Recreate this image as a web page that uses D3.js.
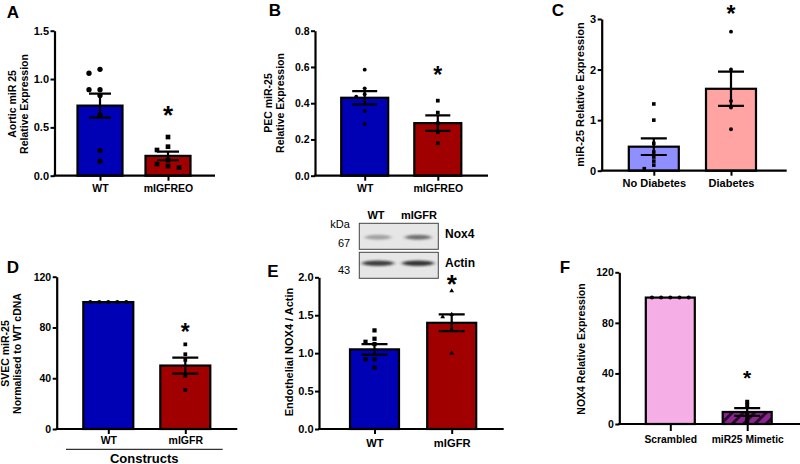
<!DOCTYPE html>
<html><head><meta charset="utf-8">
<script src="https://cdn.jsdelivr.net/npm/d3@7"></script>
<style>body{margin:0;background:#fff} svg{display:block} text{font-family:"Liberation Sans",Arial,sans-serif}</style>
</head><body><svg id="c" width="800" height="464"></svg>
<script>
// ---------- DATA ----------
// Panel A
const aCategories = ["WT", "mIGFREO"];
const aMeans = [0.725, 0.205];
const aSem = [0.125, 0.045];
const aPointsWT = [1.10, 1.06, 0.89, 0.89, 0.83, 0.63, 0.26, 0.15];
const aPointsMut = [0.40, 0.30, 0.266, 0.16, 0.12, 0.10, 0.083];
const aTicks = [0, 0.5, 1.0, 1.5];
const aStar = 0.70;
// Panel B
const bCategories = ["WT", "mIGFREO"];
const bMeans = [0.43, 0.29];
const bSem = [0.037, 0.043];
const bPointsWT = [0.585, 0.482, 0.449, 0.436, 0.357, 0.285];
const bPointsMut = [0.414, 0.348, 0.289, 0.24, 0.179];
const bTicks = [0, 0.2, 0.4, 0.6, 0.8];
const bStar = 0.585;
// Panel C
const cCategories = ["No Diabetes", "Diabetes"];
const cMeans = [0.475, 1.62];
const cSem = [0.165, 0.34];
const cPointsNo = [1.32, 1.0, 0.54, 0.37, 0.27, 0.19, 0.11, 0.04];
const cPointsDiab = [2.75, 2.0, 1.38, 1.25, 0.82];
const cTicks = [0, 1, 2, 3];
const cStar = 3.22;
// Panel D
const dCategories = ["WT", "mIGFR"];
const dMeans = [100, 50];
const dSem = [0, 6.3];
const dPointsWT = [100, 100, 100, 100, 100];
const dPointsMut = [66.7, 58.9, 54.4, 41.8, 30.7];
const dTicks = [0, 40, 80, 120];
const dStar = 81;
// Panel E
const eCategories = ["WT", "mIGFR"];
const eMeans = [1.05, 1.40];
const eSem = [0.07, 0.11];
const ePointsWT = [1.30, 1.19, 1.15, 1.12, 0.92, 0.92, 0.81];
const ePointsMut = [1.82, 1.51, 1.48, 1.31, 1.00];
const eTicks = [0, 0.5, 1.0, 1.5, 2.0];
const eStar = 2.0;
// Panel F
const fCategories = ["Scrambled", "miR25 Mimetic"];
const fMeans = [100, 9.5];
const fSem = [0, 3];
const fPointsScr = [100, 100, 100, 100, 100];
const fPointsMim = [17.6, 15, 8, 5, 2];
const fTicks = [0, 40, 80, 120];
const fStar = 41;
// Blot
const blotLanes = ["WT", "mIGFR"];
const blotProteins = ["Nox4", "Actin"];
const blotKDa = ["67", "43"];
const nox4Intensity = [0.35, 0.6];
const actinIntensity = [0.85, 0.9];

// ---------- DRAW ----------
const svg = d3.select("#c");
const defs = svg.append("defs");
const pat = defs.append("pattern").attr("id", "hatch").attr("patternUnits", "userSpaceOnUse")
  .attr("width", 8).attr("height", 8).attr("patternTransform", "rotate(45)");
pat.append("rect").attr("width", 8).attr("height", 8).attr("fill", "#8e2490");
pat.append("rect").attr("width", 3).attr("height", 8).attr("fill", "#2a0a2e");
defs.append("filter").attr("id", "blur").attr("x", "-30%").attr("y", "-100%").attr("width", "160%").attr("height", "300%")
  .append("feGaussianBlur").attr("stdDeviation", "2 1.2");

function swarm(vals, y, d, v) {
  const placed = [], off = new Array(vals.length);
  const order = vals.map((_, i) => i).sort((a, b) => vals[b] - vals[a]);
  order.forEach(i => {
    const py = y(vals[i]);
    const cands = [0];
    for (let k = 1; k < 6; k++) cands.push(-k * d, k * d);
    for (const c of cands) {
      if (!placed.some(p => Math.abs(p.x - c) < d * 0.9 && Math.abs(p.y - py) < v)) {
        off[i] = c; placed.push({x: c, y: py}); break;
      }
    }
  });
  return off;
}

function panel(cfg) {
  const g = svg.append("g");
  const y = d3.scaleLinear().domain([0, cfg.yMax]).range([cfg.y0, cfg.yTop]);
  const x = d3.scalePoint().domain(cfg.cats).range(cfg.xr);
  cfg.cats.forEach((c, i) => {
    g.append("rect").attr("x", x(c) - cfg.bw / 2).attr("y", y(cfg.means[i]))
      .attr("width", cfg.bw).attr("height", cfg.y0 - y(cfg.means[i]))
      .attr("fill", cfg.fills[i]).attr("stroke", "#000").attr("stroke-width", 2.2);
  });
  cfg.cats.forEach((c, i) => {
    const vals = cfg.points[i];
    const off = swarm(vals, y, cfg.spread, cfg.vsep);
    const sym = d3.symbol().type(cfg.shapes[i]).size(cfg.sizes[i]);
    vals.forEach((v, j) => {
      g.append("path").attr("d", sym).attr("fill", "#000")
        .attr("transform", `translate(${x(c) + off[j]},${y(v)})`);
    });
  });
  cfg.cats.forEach((c, i) => {
    const s = cfg.sem[i]; if (!s) return;
    const cx = x(c), hi = y(cfg.means[i] + s), lo = y(cfg.means[i] - s), w = cfg.cap / 2;
    g.append("path").attr("d", `M${cx},${lo}V${hi}M${cx - w},${hi}H${cx + w}M${cx - w},${lo}H${cx + w}`)
      .attr("stroke", "#000").attr("stroke-width", 2.2).attr("fill", "none");
  });
  const ya = g.append("g").attr("transform", `translate(${cfg.axisX},0)`)
    .call(d3.axisLeft(y).tickValues(cfg.ticks).tickFormat(d3.format(cfg.fmt)).tickSize(4).tickPadding(1.5).tickSizeOuter(0));
  ya.select(".domain").attr("stroke-width", 2.2);
  ya.selectAll(".tick line").attr("stroke-width", 2);
  ya.selectAll("text").attr("font-size", cfg.tfs).attr("font-weight", "bold").attr("fill", "#000")
    .attr("font-family", '"Liberation Sans",Arial,sans-serif');
  g.append("line").attr("x1", cfg.axisX - 1).attr("x2", cfg.xEnd).attr("y1", cfg.y0).attr("y2", cfg.y0)
    .attr("stroke", "#000").attr("stroke-width", 2.2);
  const xa = g.append("g").attr("transform", `translate(0,${cfg.y0})`)
    .call(d3.axisBottom(x).tickSize(cfg.xts).tickPadding(cfg.xtp));
  xa.select(".domain").remove();
  xa.selectAll(".tick line").attr("stroke-width", 2);
  xa.selectAll("text").attr("font-size", cfg.xfs).attr("font-weight", "bold").attr("fill", "#000")
    .attr("font-family", '"Liberation Sans",Arial,sans-serif');
  const sx = x(cfg.cats[1]);
  g.append("text").attr("x", sx).attr("y", y(cfg.star) + cfg.starFs * 0.6).attr("text-anchor", "middle")
    .attr("font-size", cfg.starFs).attr("font-weight", "bold").text("*");
  cfg.ylab.forEach((l, k) => {
    g.append("text").attr("transform", `translate(${cfg.ylx[k]},${cfg.yly}) rotate(-90)`)
      .attr("text-anchor", "middle").attr("dy", "0.35em").attr("font-size", cfg.lfs)
      .attr("font-weight", "bold").text(l);
  });
  g.append("text").attr("x", cfg.letterPos[0]).attr("y", cfg.letterPos[1]).attr("dy", "0.35em")
    .attr("text-anchor", "middle").attr("font-size", 17).attr("font-weight", "bold").text(cfg.letter);
  return {x, y};
}

const BLUE = "#0000b4", RED = "#a00000";

panel({cats: aCategories, means: aMeans, sem: aSem, points: [aPointsWT, aPointsMut], ticks: aTicks, star: aStar,
  yMax: 1.5, y0: 175.7, yTop: 30.7, axisX: 54.5, xEnd: 215, xr: [100, 168], bw: 45, fills: [BLUE, RED],
  shapes: [d3.symbolCircle, d3.symbolSquare], sizes: [22, 22], spread: 11, vsep: 5, cap: 22, fmt: ".1f",
  tfs: 11, xfs: 10.5, xts: 5, xtp: 4, starFs: 26, lfs: 10.5,
  ylab: ["Aortic miR 25", "Relative Expression"], ylx: [12, 24.5], yly: 104, letter: "A", letterPos: [13, 12]});

panel({cats: bCategories, means: bMeans, sem: bSem, points: [bPointsWT, bPointsMut], ticks: bTicks, star: bStar,
  yMax: 0.8, y0: 175.7, yTop: 30.7, axisX: 315, xEnd: 488, xr: [364.7, 437.8], bw: 47, fills: [BLUE, RED],
  shapes: [d3.symbolCircle, d3.symbolSquare], sizes: [12, 14], spread: 8.5, vsep: 4, cap: 25, fmt: ".1f",
  tfs: 10.5, xfs: 10.5, xts: 5, xtp: 4, starFs: 23, lfs: 10.5,
  ylab: ["PEC miR-25", "Relative Expression"], ylx: [268.5, 280], yly: 103, letter: "B", letterPos: [275, 10]});

panel({cats: cCategories, means: cMeans, sem: cSem, points: [cPointsNo, cPointsDiab], ticks: cTicks, star: cStar,
  yMax: 3, y0: 170.7, yTop: 19, axisX: 601.7, xEnd: 786.7, xr: [653.8, 731], bw: 50, fills: ["#8f8fff", "#ffa3a3"],
  shapes: [d3.symbolSquare, d3.symbolCircle], sizes: [13, 12], spread: 9.5, vsep: 4, cap: 26, fmt: "d",
  tfs: 11, xfs: 11, xts: 5, xtp: 4, starFs: 23, lfs: 11,
  ylab: ["miR-25 Relative Expression"], ylx: [580], yly: 94.5, letter: "C", letterPos: [558, 10]});

panel({cats: dCategories, means: dMeans, sem: dSem, points: [dPointsWT, dPointsMut], ticks: dTicks, star: dStar,
  yMax: 120, y0: 429, yTop: 276.7, axisX: 56.7, xEnd: 237.3, xr: [108.3, 185.3], bw: 50, fills: [BLUE, RED],
  shapes: [d3.symbolCircle, d3.symbolSquare], sizes: [13, 14], spread: 9, vsep: 4, cap: 26, fmt: "d",
  tfs: 10.5, xfs: 10.5, xts: 5, xtp: 3, starFs: 23, lfs: 10.5,
  ylab: ["SVEC miR-25", "Normalised to WT cDNA"], ylx: [5.5, 17.5], yly: 353.5, letter: "D", letterPos: [13, 266.7]});

svg.append("line").attr("x1", 66).attr("x2", 222.7).attr("y1", 449.3).attr("y2", 449.3).attr("stroke", "#000").attr("stroke-width", 1);
svg.append("text").attr("x", 144.3).attr("y", 462.5).attr("text-anchor", "middle").attr("font-size", 13)
  .attr("font-weight", "bold").attr("font-family", '"Open Sans",sans-serif').text("Constructs");

panel({cats: eCategories, means: eMeans, sem: eSem, points: [ePointsWT, ePointsMut], ticks: eTicks, star: eStar,
  yMax: 2.0, y0: 429, yTop: 277.3, axisX: 319, xEnd: 503.7, xr: [374.5, 451.7], bw: 49, fills: [BLUE, RED],
  shapes: [d3.symbolSquare, d3.symbolTriangle], sizes: [18, 10], spread: 9, vsep: 4, cap: 26, fmt: ".1f",
  tfs: 11, xfs: 11.2, xts: 5, xtp: 5, starFs: 26, lfs: 11,
  ylab: ["Endothelial NOX4 / Actin"], ylx: [289.5], yly: 352, letter: "E", letterPos: [273, 270.7]});

panel({cats: fCategories, means: fMeans, sem: fSem, points: [fPointsScr, fPointsMim], ticks: fTicks, star: fStar,
  yMax: 120, y0: 424, yTop: 272.3, axisX: 619.3, xEnd: 800, xr: [670.3, 747.2], bw: 49, fills: ["#f5aee6", "url(#hatch)"],
  shapes: [d3.symbolCircle, d3.symbolSquare], sizes: [13, 16], spread: 9.2, vsep: 2, cap: 26, fmt: "d",
  tfs: 10.5, xfs: 10.3, xts: 7, xtp: 5, starFs: 21, lfs: 10.5,
  ylab: ["NOX4 Relative Expression"], ylx: [581], yly: 349, letter: "F", letterPos: [565, 266.7]});

// ---------- Western blot inset ----------
const blot = svg.append("g");
const laneX = d3.scalePoint().domain(blotLanes).range([378, 418]);
const rowY = d3.scalePoint().domain(blotProteins).range([236.3, 265.3]);
blotProteins.forEach((p, r) => {
  const top = rowY(p) - 13;
  blot.append("rect").attr("x", 359.3).attr("y", top).attr("width", 79).attr("height", 26)
    .attr("fill", "#e6e6e6").attr("stroke", "#444").attr("stroke-width", 1);
  const inten = r === 0 ? nox4Intensity : actinIntensity;
  blotLanes.forEach((l, k) => {
    blot.append("ellipse").attr("cx", laneX(l)).attr("cy", rowY(p) + (r === 0 ? 1 : -2)).attr("rx", r === 0 ? 13 : 16)
      .attr("ry", r === 0 ? 2.5 : 2.8).attr("fill", "#222").attr("opacity", inten[k]).attr("filter", "url(#blur)");
  });
  blot.append("text").attr("x", 445).attr("y", rowY(p) + 2).attr("font-size", 12).attr("font-weight", "bold").text(p);
  blot.append("text").attr("x", 344).attr("y", rowY(p) + (r === 0 ? 11 : 9)).attr("text-anchor", "middle").attr("font-size", 11).text(blotKDa[r]);
});
blot.append("text").attr("x", 340).attr("y", 227.5).attr("text-anchor", "middle").attr("font-size", 11).text("kDa");
blotLanes.forEach(l => {
  blot.append("text").attr("x", laneX(l) - (l === "WT" ? 2 : -1)).attr("y", 219).attr("text-anchor", "middle")
    .attr("font-size", 11).attr("font-weight", "bold").text(l);
});
</script></body></html>
